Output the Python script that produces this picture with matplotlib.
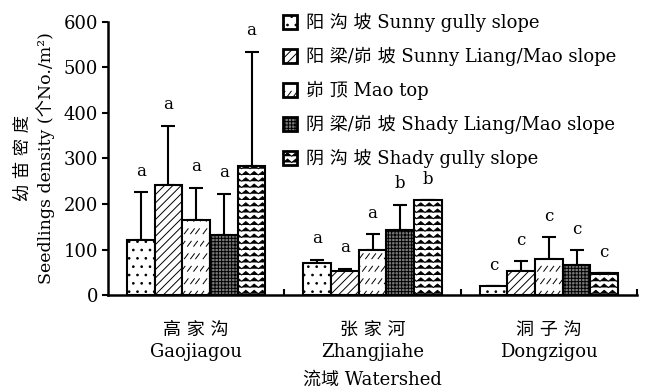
import warnings
import numpy as np
import matplotlib
matplotlib.use("Agg")
import matplotlib.pyplot as plt
from matplotlib import hatch as mhatch
from matplotlib.path import Path

warnings.simplefilter("ignore")

# ---------------- data ----------------
watersheds = ["高 家 沟\nGaojiagou", "张 家 河\nZhangjiahe", "洞 子 沟\nDongzigou"]
positions = ["阳 沟 坡 Sunny gully slope",
             "阳 梁/峁 坡 Sunny Liang/Mao slope",
             "峁 顶 Mao top",
             "阴 梁/峁 坡 Shady Liang/Mao slope",
             "阴 沟 坡 Shady gully slope"]

sunny_gully = [121, 71, 19]
sunny_liang = [242, 53, 52]
mao_top = [165, 98, 79]
shady_liang = [131, 143, 66]
shady_gully = [283, 208, 48]

sunny_gully_err = [105, 7, 0]
sunny_liang_err = [130, 5, 22]
mao_top_err = [71, 35, 48]
shady_liang_err = [92, 55, 32]
shady_gully_err = [252, 0, 0]

sunny_gully_sig = ["a", "a", "c"]
sunny_liang_sig = ["a", "a", "c"]
mao_top_sig = ["a", "a", "c"]
shady_liang_sig = ["a", "b", "c"]
shady_gully_sig = ["a", "b", "c"]

means = [sunny_gully, sunny_liang, mao_top, shady_liang, shady_gully]
errs = [sunny_gully_err, sunny_liang_err, mao_top_err, shady_liang_err, shady_gully_err]
sigs = [sunny_gully_sig, sunny_liang_sig, mao_top_sig, shady_liang_sig, shady_gully_sig]


# ---------------- custom fill patterns ----------------
class WaveHatch(mhatch.HatchPatternBase):
    """Rows of zigzag lines, selected with the letter 'w'."""

    def __init__(self, hatch, density):
        self.num_rows = int(hatch.count("w") * density * 1.34)
        self.num_teeth = int(self.num_rows * 0.75)
        self.per_row = 2 * self.num_teeth + 1
        self.num_vertices = self.num_rows * self.per_row if self.num_rows else 0

    def set_vertices_and_codes(self, vertices, codes):
        step = 1.0 / self.num_rows
        amp = step * 0.55
        xs = np.linspace(0, 1, self.per_row)
        ys_off = np.where(np.arange(self.per_row) % 2 == 0, 0.0, amp)
        for r in range(self.num_rows):
            sl = slice(r * self.per_row, (r + 1) * self.per_row)
            vertices[sl, 0] = xs
            vertices[sl, 1] = r * step + ys_off
            codes[sl] = Path.LINETO
            codes[r * self.per_row] = Path.MOVETO


class DashHatch(mhatch.HatchPatternBase):
    """Rows of short slanted dashes, selected with the letter 'd'."""

    def __init__(self, hatch, density):
        self.num_rows = int(hatch.count("d") * density * 1.34)
        self.num_cols = self.num_rows * 2
        self.num_vertices = self.num_rows * self.num_cols * 2 if self.num_rows else 0

    def set_vertices_and_codes(self, vertices, codes):
        dy = 1.0 / self.num_rows
        dx = 1.0 / self.num_cols
        k = 0
        for r in range(self.num_rows):
            shift = dx * 0.5 if r % 2 else 0.0
            for c in range(self.num_cols):
                x0 = (c * dx + shift) % 1.0
                x0 = min(x0, 1.0 - dx * 0.7)
                y0 = r * dy + dy * 0.3
                vertices[k] = (x0, y0)
                vertices[k + 1] = (x0 + dx * 0.6, y0 + dy * 0.4)
                codes[k] = Path.MOVETO
                codes[k + 1] = Path.LINETO
                k += 2


mhatch._hatch_types.extend([WaveHatch, DashHatch])

# ---------------- style ----------------
plt.rcParams["font.family"] = ["DejaVu Serif", "Noto Sans CJK SC"]
plt.rcParams["font.size"] = 12
plt.rcParams["hatch.linewidth"] = 0.7

face = ["white", "white", "white", "#7a7a7a", "white"]
hatches = ["..", "////", "d", "+++++", "ww"]

fig = plt.figure(figsize=(6.48, 3.92), dpi=100)
ax = fig.add_axes([0.1667, 0.2474, 0.8163, 0.6966])

x = np.arange(len(watersheds))
width = 0.157
offsets = (np.arange(5) - 2) * width

handles = []
for i in range(5):
    xi = x + offsets[i]
    bars = ax.bar(xi, means[i], width, facecolor=face[i], edgecolor="black",
                  linewidth=1.5, hatch=hatches[i], zorder=3, label=positions[i])
    handles.append(bars)
    yerr = np.vstack([np.zeros(len(errs[i])), errs[i]])
    ax.errorbar(xi, means[i], yerr=yerr, fmt="none", ecolor="black",
                elinewidth=1.5, capsize=5, capthick=1.5, zorder=2)
    for xv, m, e, s in zip(xi, means[i], errs[i], sigs[i]):
        ax.annotate(s, (xv, m + e), xytext=(0, 9), textcoords="offset points",
                    ha="center", va="bottom", fontsize=12)

ax.set_xlim(-0.5, 2.5)
ax.set_ylim(0, 600)
ax.set_yticks(np.arange(0, 601, 100))

ax.set_xticks([0.5, 1.5, 2.5])
ax.set_xticklabels([])
ax.set_xticks(x, minor=True)
ax.set_xticklabels(watersheds, minor=True, fontsize=13, linespacing=1.25)
ax.tick_params(axis="x", which="major", direction="in", length=4, width=1.5)
ax.tick_params(axis="x", which="minor", length=0, pad=19)
ax.tick_params(axis="y", direction="out", length=4, width=1.5, labelsize=13, pad=3)

for side in ("top", "right"):
    ax.spines[side].set_visible(False)
for side in ("left", "bottom"):
    ax.spines[side].set_linewidth(1.8)

ax.set_ylabel("幼 苗 密 度\nSeedlings density (个No./m²)", fontsize=12.5,
              linespacing=1.3, labelpad=6)
ax.set_xlabel("流域 Watershed", fontsize=13, labelpad=7)

leg = fig.legend(handles=handles, loc="upper left",
                 bbox_to_anchor=(283 / 648, 1 - 13 / 392),
                 bbox_transform=fig.transFigure, frameon=False,
                 fontsize=13, handlelength=0.8, handleheight=0.8,
                 handletextpad=0.5, labelspacing=0.82, borderpad=0,
                 borderaxespad=0)
for p in leg.get_patches():
    p.set_linewidth(2.0)

fig.savefig("out.png", dpi=100)
